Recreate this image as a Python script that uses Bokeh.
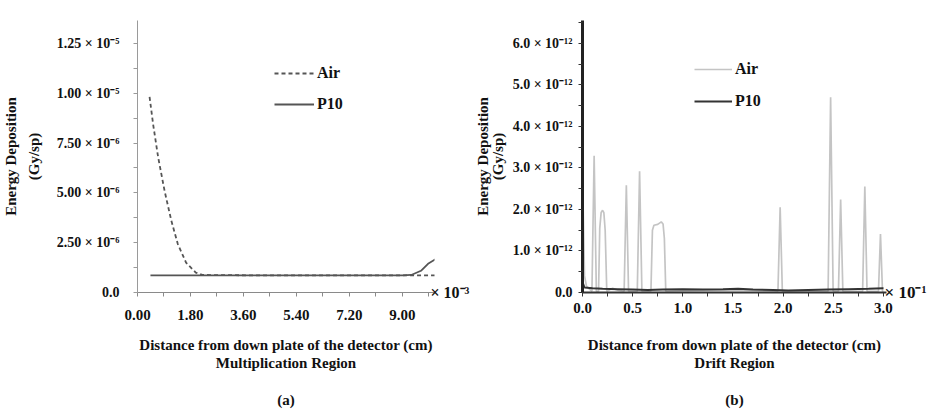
import numpy as np
from bokeh.plotting import figure
from bokeh.layouts import row
from bokeh.models import (FixedTicker, PrintfTickFormatter, Legend, LegendItem, Range1d,
                          LinearAxis)
from bokeh.embed import file_html
from bokeh.resources import INLINE

FONT = "Liberation Serif"

# ---------------- Panel (a): Multiplication Region ----------------
mult_air_x = [0.41, 0.53, 0.70, 0.92, 1.15, 1.37, 1.65, 1.98, 2.20, 4.00, 6.00, 8.00, 10.15]
mult_air_y = [9.82e-6, 8.45e-6, 6.80e-6, 5.10e-6, 3.60e-6, 2.43e-6, 1.50e-6, 1.00e-6, 0.88e-6,
              0.86e-6, 0.86e-6, 0.86e-6, 0.86e-6]
mult_p10_x = [0.44, 2.00, 4.00, 6.00, 8.00, 9.00, 9.30, 9.63, 9.87, 10.20]
mult_p10_y = [0.86e-6, 0.86e-6, 0.86e-6, 0.86e-6, 0.86e-6, 0.86e-6, 0.88e-6, 1.09e-6, 1.44e-6, 1.74e-6]

mult_x_ticks = [0.0, 1.8, 3.6, 5.4, 7.2, 9.0]
mult_x_minor = [0.9, 2.7, 4.5, 6.3, 8.1, 9.9]
mult_y_ticks = [0.0, 2.5e-6, 5.0e-6, 7.5e-6, 1.0e-5, 1.25e-5]
mult_y_minor = [1.25e-6, 3.75e-6, 6.25e-6, 8.75e-6, 1.125e-5]
mult_y_labels = ["0.0", "2.50 × 10⁻⁶", "5.00 × 10⁻⁶", "7.50 × 10⁻⁶", "1.00 × 10⁻⁵", "1.25 × 10⁻⁵"]
mult_x_scale_label = "× 10⁻³"

# ---------------- Panel (b): Drift Region (values in 1e-12 Gy/sp) ----------------
drift_air_x = [0.000, 0.006, 0.020, 0.040, 0.070, 0.094, 0.116, 0.138, 0.160, 0.172, 0.186, 0.200,
               0.213, 0.226, 0.242, 0.300, 0.360, 0.415, 0.437, 0.459, 0.546, 0.569, 0.592, 0.682,
               0.697, 0.712, 0.750, 0.785, 0.803, 0.816, 0.830, 1.200, 1.600, 1.948, 1.970, 1.992,
               2.448, 2.473, 2.498, 2.551, 2.573, 2.595, 2.792, 2.814, 2.836, 2.950, 2.970, 2.990, 3.000]
drift_air_pico = [1.50, 2.10, 0.40, 0.15, 0.08, 0.03, 3.29, 0.03, 0.03, 1.55, 1.93, 1.98,
                  1.92, 1.50, 0.03, 0.10, 0.05, 0.03, 2.58, 0.03, 0.03, 2.92, 0.03, 0.03,
                  1.50, 1.62, 1.64, 1.70, 1.65, 1.30, 0.03, 0.05, 0.06, 0.03, 2.05, 0.03,
                  0.03, 4.70, 0.03, 0.03, 2.24, 0.03, 0.03, 2.55, 0.03, 0.03, 1.41, 0.03, 0.03]
drift_p10_x = [0.00, 0.02, 0.10, 0.20, 0.35, 0.50, 0.65, 0.80, 1.00, 1.20, 1.40, 1.55, 1.70,
               1.90, 2.05, 2.25, 2.45, 2.65, 2.85, 3.00]
drift_p10_pico = [0.25, 0.12, 0.10, 0.09, 0.08, 0.07, 0.06, 0.07, 0.08, 0.07, 0.08, 0.09, 0.07,
                  0.06, 0.05, 0.06, 0.07, 0.08, 0.09, 0.10]

drift_x_ticks = [0.0, 0.5, 1.0, 1.5, 2.0, 2.5, 3.0]
drift_x_minor = [0.25, 0.75, 1.25, 1.75, 2.25, 2.75]
drift_y_ticks = [0.0, 1e-12, 2e-12, 3e-12, 4e-12, 5e-12, 6e-12]
drift_y_minor = [0.5e-12, 1.5e-12, 2.5e-12, 3.5e-12, 4.5e-12, 5.5e-12, 6.5e-12]
drift_y_labels = ["0.0", "1.0 × 10⁻¹²", "2.0 × 10⁻¹²", "3.0 × 10⁻¹²", "4.0 × 10⁻¹²",
                  "5.0 × 10⁻¹²", "6.0 × 10⁻¹²"]
drift_x_scale_label = "× 10⁻¹"

drift_air_y = np.array(drift_air_pico) * 1e-12
drift_p10_y = np.array(drift_p10_pico) * 1e-12


def style_common(p):
    p.xgrid.visible = False
    p.ygrid.visible = False
    p.outline_line_color = None
    p.background_fill_color = "white"
    p.border_fill_color = "white"
    for ax in (p.xaxis[0], p.yaxis[0]):
        ax.major_label_text_font = FONT
        ax.major_label_text_font_style = "bold"
        ax.major_label_text_font_size = "14px"
        ax.major_label_text_color = "#111111"
        ax.axis_label_text_font = FONT
        ax.axis_label_text_font_style = "bold"
        ax.axis_label_text_font_size = "15px"
        ax.axis_label_text_color = "#111111"
        ax.major_tick_in = 0
        ax.minor_tick_in = 0
        ax.major_tick_out = 4
        ax.minor_tick_out = 4
    p.xaxis[0].major_label_text_font_size = "15px"


def add_scale_axis(p, text, standoff, size):
    ax = LinearAxis(ticker=FixedTicker(ticks=[0.0], minor_ticks=[]),
                    major_label_overrides={0.0: text},
                    axis_line_color=None, major_tick_line_color=None,
                    minor_tick_line_color=None, major_tick_out=0, minor_tick_out=0,
                    major_label_standoff=standoff,
                    major_label_text_font=FONT, major_label_text_font_style="bold",
                    major_label_text_font_size=size, major_label_text_color="#111111")
    p.add_layout(ax, "right")


# ---------- Figure (a) ----------
pa = figure(width=472, height=410, output_backend="svg", toolbar_location=None,
            x_range=Range1d(0, 10.09), y_range=Range1d(0, 1.365e-5),
            min_border_left=135, min_border_right=36, min_border_top=20, min_border_bottom=118)
style_common(pa)
ra_air = pa.line(mult_air_x, mult_air_y, line_color="#555555", line_width=1.8, line_dash="4 3")
ra_p10 = pa.line(mult_p10_x, mult_p10_y, line_color="#555555", line_width=1.8)

xa = pa.xaxis[0]
xa.ticker = FixedTicker(ticks=mult_x_ticks, minor_ticks=mult_x_minor)
xa.formatter = PrintfTickFormatter(format="%.2f")
xa.axis_line_color = "#8a8a8a"
xa.major_tick_line_color = "#8a8a8a"
xa.minor_tick_line_color = "#8a8a8a"
xa.major_label_standoff = 13
xa.axis_label = "Distance from down plate of the detector (cm)\nMultiplication Region\n\n(a)"
xa.axis_label_standoff = 14
xa.axis_label_text_line_height = 1.15

ya = pa.yaxis[0]
ya.ticker = FixedTicker(ticks=mult_y_ticks, minor_ticks=mult_y_minor)
ya.major_label_overrides = dict(zip(mult_y_ticks, mult_y_labels))
ya.axis_line_color = "#9a9a9a"
ya.major_tick_line_color = "#9a9a9a"
ya.minor_tick_line_color = "#9a9a9a"
ya.major_label_standoff = 14
ya.axis_label = "Energy Deposition\n(Gy/sp)"
ya.axis_label_standoff = 12
ya.axis_label_text_line_height = 1.4

add_scale_axis(pa, mult_x_scale_label, -4, "16px")

leg_a = Legend(items=[LegendItem(label="Air", renderers=[ra_air]),
                      LegendItem(label="P10", renderers=[ra_p10])],
               location=(137, 178), glyph_width=40, glyph_height=20, label_standoff=3,
               spacing=11, padding=0, margin=0, border_line_color=None,
               background_fill_alpha=0, label_text_font=FONT, label_text_font_style="bold",
               label_text_font_size="16px", label_text_color="#111111")
pa.add_layout(leg_a)

# ---------- Figure (b) ----------
pb = figure(width=460, height=410, output_backend="svg", toolbar_location=None,
            x_range=Range1d(0, 3.03), y_range=Range1d(0, 6.55e-12),
            min_border_left=109, min_border_right=46, min_border_top=10, min_border_bottom=118)
style_common(pb)
rb_air = pb.line(drift_air_x, drift_air_y, line_color="#c4c4c4", line_width=1.7)
rb_p10 = pb.line(drift_p10_x, drift_p10_y, line_color="#333333", line_width=2)

xb = pb.xaxis[0]
xb.ticker = FixedTicker(ticks=drift_x_ticks, minor_ticks=drift_x_minor)
xb.formatter = PrintfTickFormatter(format="%.1f")
xb.axis_line_color = "#333333"
xb.axis_line_width = 2
xb.major_tick_line_color = "#333333"
xb.minor_tick_line_color = "#333333"
xb.major_label_standoff = 6
xb.axis_label = "Distance from down plate of the detector (cm)\nDrift Region\n\n(b)"
xb.axis_label_standoff = 21
xb.axis_label_text_line_height = 1.15

yb = pb.yaxis[0]
yb.ticker = FixedTicker(ticks=drift_y_ticks, minor_ticks=drift_y_minor)
yb.major_label_overrides = dict(zip(drift_y_ticks, drift_y_labels))
yb.axis_line_color = "#222222"
yb.axis_line_width = 3
yb.major_tick_line_color = "#333333"
yb.minor_tick_line_color = "#333333"
yb.major_label_standoff = 6
yb.axis_label = "Energy Deposition\n(Gy/sp)"
yb.axis_label_standoff = 4
yb.axis_label_text_line_height = 0.9

add_scale_axis(pb, drift_x_scale_label, -2, "17px")

leg_b = Legend(items=[LegendItem(label="Air", renderers=[rb_air]),
                      LegendItem(label="P10", renderers=[rb_p10])],
               location=(112, 181), glyph_width=38, glyph_height=20, label_standoff=3,
               spacing=12, padding=0, margin=0, border_line_color=None,
               background_fill_alpha=0, label_text_font=FONT, label_text_font_style="bold",
               label_text_font_size="16px", label_text_color="#111111")
pb.add_layout(leg_b)

layout = row(pa, pb)
open("out.html", "w").write(file_html(layout, INLINE))
